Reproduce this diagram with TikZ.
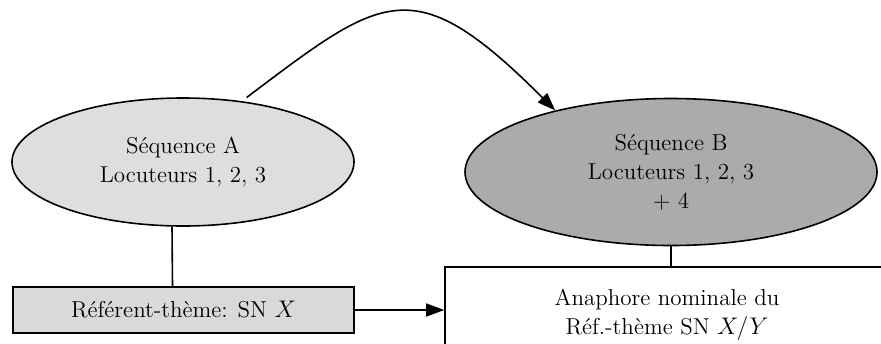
\documentclass[tikz,border=0pt]{standalone}
\usetikzlibrary{arrows.meta,shapes.geometric}

\begin{document}
\begin{tikzpicture}[x=0.5pt,y=-0.5pt,thick,>={Triangle[length=9pt,width=6.5pt]},
                    every node/.style={font=\fontsize{11.5}{14.5}\selectfont,align=center},
                    seq node/.style={ellipse,draw,inner sep=0pt},
                    box node/.style={rectangle,draw,inner sep=0pt}]
  \clip (0,0) rectangle (881,343);

  \node[seq node,fill=black!13,minimum width=171pt,minimum height=64pt] (A) at (183,162) {Séquence A\\Locuteurs 1, 2, 3};
  \node[seq node,fill=black!33,minimum width=206pt,minimum height=73.5pt] (B) at (671,172) {Séquence B\\Locuteurs 1, 2, 3\\+ 4};
  \node[box node,fill=black!15,minimum width=170.5pt,minimum height=23pt] (RA) at (183.5,310) {Référent-thème: SN $X$};
  \node[box node,fill=white,minimum width=222pt,minimum height=48pt] (RB) at (667,315) {Anaphore nominale du\\Réf.-thème SN $X/Y$};

  \draw[->,shorten <=3pt] (A.46) .. controls +(142,-107) and +(-142,-142) .. (B.152);

  \path
    ([xshift=-5.5pt]A.south) edge ([xshift=-5.5pt]RA.north)
    (B.south) edge (B.south |- RB.north)
    (RA.east) edge[->] (RA.east -| RB.west)
;
\end{tikzpicture}
\end{document}
